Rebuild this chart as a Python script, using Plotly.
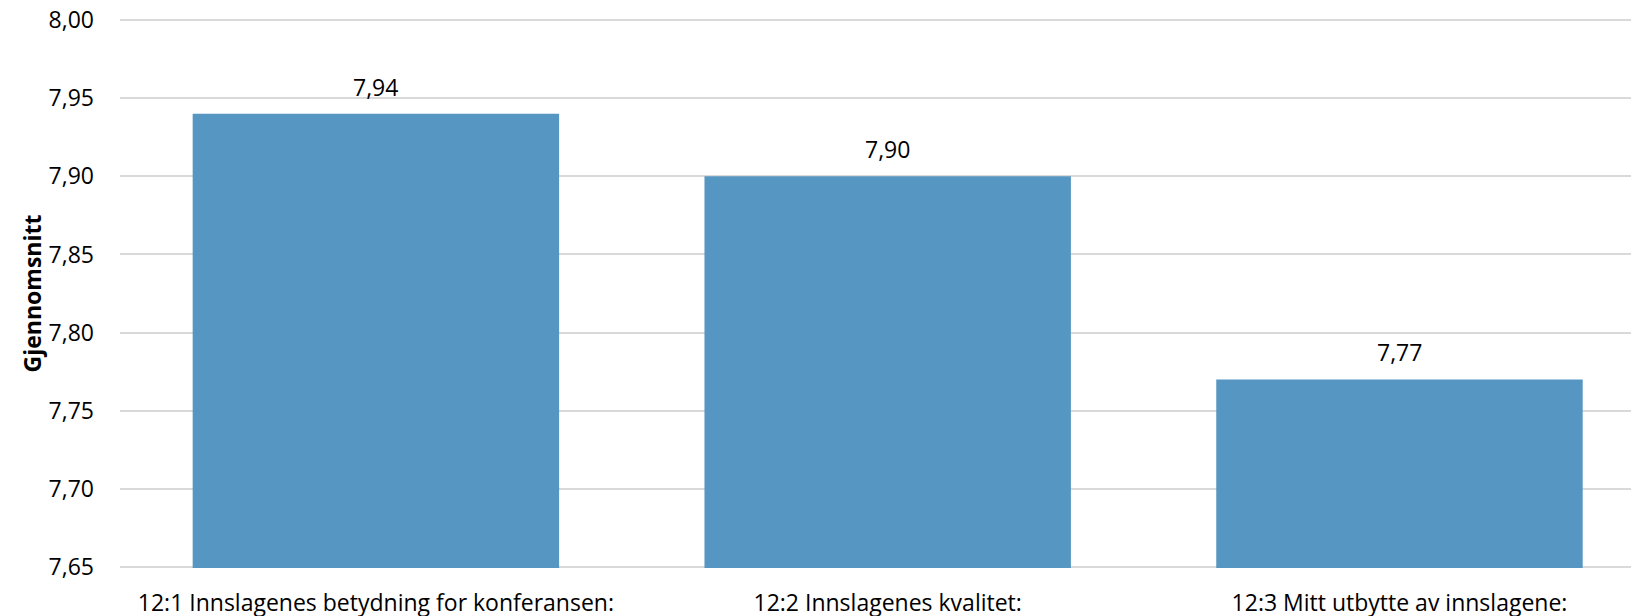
import plotly.graph_objects as go

categories = ["12:1 Innslagenes betydning for konferansen:", "12:2 Innslagenes kvalitet:", "12:3 Mitt utbytte av innslagene:"]
values = [7.94, 7.90, 7.77]
y_ticks = [7.65, 7.70, 7.75, 7.80, 7.85, 7.90, 7.95, 8.00]

FONT = "Open Sans"
fig = go.Figure()
fig.add_trace(go.Bar(
    x=categories, y=values, width=0.716,
    marker=dict(color="#5596C2", line=dict(width=0)),
    hoverinfo="skip",
))
for c, v in zip(categories, values):
    fig.add_annotation(x=c, y=v, text=f"{v:.2f}".replace(".", ","), showarrow=False,
                       yanchor="middle", yshift=27, font=dict(family=FONT, size=23, color="#000"))

fig.update_layout(
    width=1631, height=608,
    margin=dict(l=112, r=0, t=11, b=48, pad=0),
    plot_bgcolor="white", paper_bgcolor="white",
    separators=", ",
    showlegend=False,
    font=dict(family=FONT, size=23, color="#000"),
)
fig.update_xaxes(range=[-0.5, 2.468], showgrid=False, showline=False, zeroline=False,
                 ticks="", ticklabelstandoff=19, tickfont=dict(size=23), automargin=False,
                 ticklabeloverflow="allow")
fig.update_yaxes(range=[7.6493, 8.0007], tickvals=y_ticks, tickformat=".2f",
                 showgrid=True, gridcolor="#D9D9D9", gridwidth=2, zeroline=False,
                 showline=False, ticks="", ticklabelstandoff=25, tickfont=dict(size=23),
                 automargin=False, ticklabeloverflow="allow",
                 title=dict(text="<b>Gjennomsnitt</b>", font=dict(size=23), standoff=0))
fig.write_html("out.html")
